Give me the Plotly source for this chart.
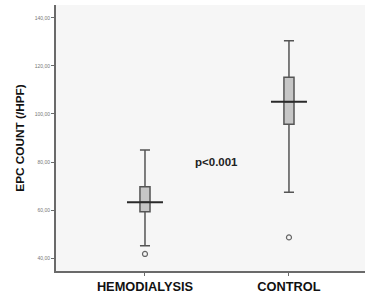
import plotly.graph_objects as go

groups = ["HEMODIALYSIS", "CONTROL"]
group_pos = [0, 1]
upper_whisker = [85.0, 130.5]
q3 = [69.7, 115.3]
median = [63.2, 105.1]
q1 = [59.3, 95.7]
lower_whisker = [45.1, 67.4]
outliers = [41.7, 48.6]
mean_line = [63.2, 105.1]
y_ticks = [40, 60, 80, 100, 120, 140]
y_tick_labels = ["40,00", "60,00", "80,00", "100,00", "120,00", "140,00"]
annotation_text = "p<0.001"

fig = go.Figure()
fig.add_trace(go.Box(
    x=group_pos, q1=q1, median=median, q3=q3,
    lowerfence=lower_whisker, upperfence=upper_whisker,
    width=0.07, whiskerwidth=1,
    fillcolor="#c6c6c6", line=dict(color="#555555", width=1.5),
    boxpoints=False, showlegend=False, hoverinfo="skip",
))
fig.add_trace(go.Scatter(
    x=group_pos, y=outliers, mode="markers",
    marker=dict(symbol="circle-open", size=5, color="#666666", line=dict(width=1.2)),
    showlegend=False,
))
for p, m in zip(group_pos, mean_line):
    fig.add_trace(go.Scatter(
        x=[p - 0.125, p + 0.125], y=[m, m], mode="lines",
        line=dict(color="#2a2a2a", width=2), showlegend=False,
    ))

fig.add_annotation(x=0.5, y=80, xref="x", yref="y", text="<b>" + annotation_text + "</b>",
                   showarrow=False, font=dict(family="Liberation Sans, Arial", size=11.5, color="#222"))

fig.update_layout(
    width=366, height=295,
    margin=dict(l=56, r=1, t=5, b=24),
    paper_bgcolor="white", plot_bgcolor="#f6f6f6",
    xaxis=dict(range=[-0.618, 1.528], tickvals=group_pos,
               ticktext=["<b>" + g + "</b>" for g in groups],
               showgrid=False, zeroline=False, showline=True, linecolor="#6a6a6a", linewidth=2,
               ticks="outside", ticklen=3, tickcolor="#6a6a6a",
               tickfont=dict(family="Liberation Sans, Arial", size=12.8, color="#111")),
    yaxis=dict(range=[34.6, 145.4], tickvals=y_ticks, ticktext=y_tick_labels,
               showgrid=False, zeroline=False, showline=True, linecolor="#6a6a6a", linewidth=2,
               ticks="outside", ticklen=3, tickcolor="#6a6a6a",
               tickfont=dict(family="Liberation Sans, Arial", size=5, color="#777"),
               title=dict(text="<b>EPC COUNT (/HPF)</b>", standoff=8,
                          font=dict(family="Liberation Sans, Arial", size=11.8, color="#111"))),
)
fig.write_html("out.html", config={"displayModeBar": False},
               post_script="document.body.style.margin='0';")
